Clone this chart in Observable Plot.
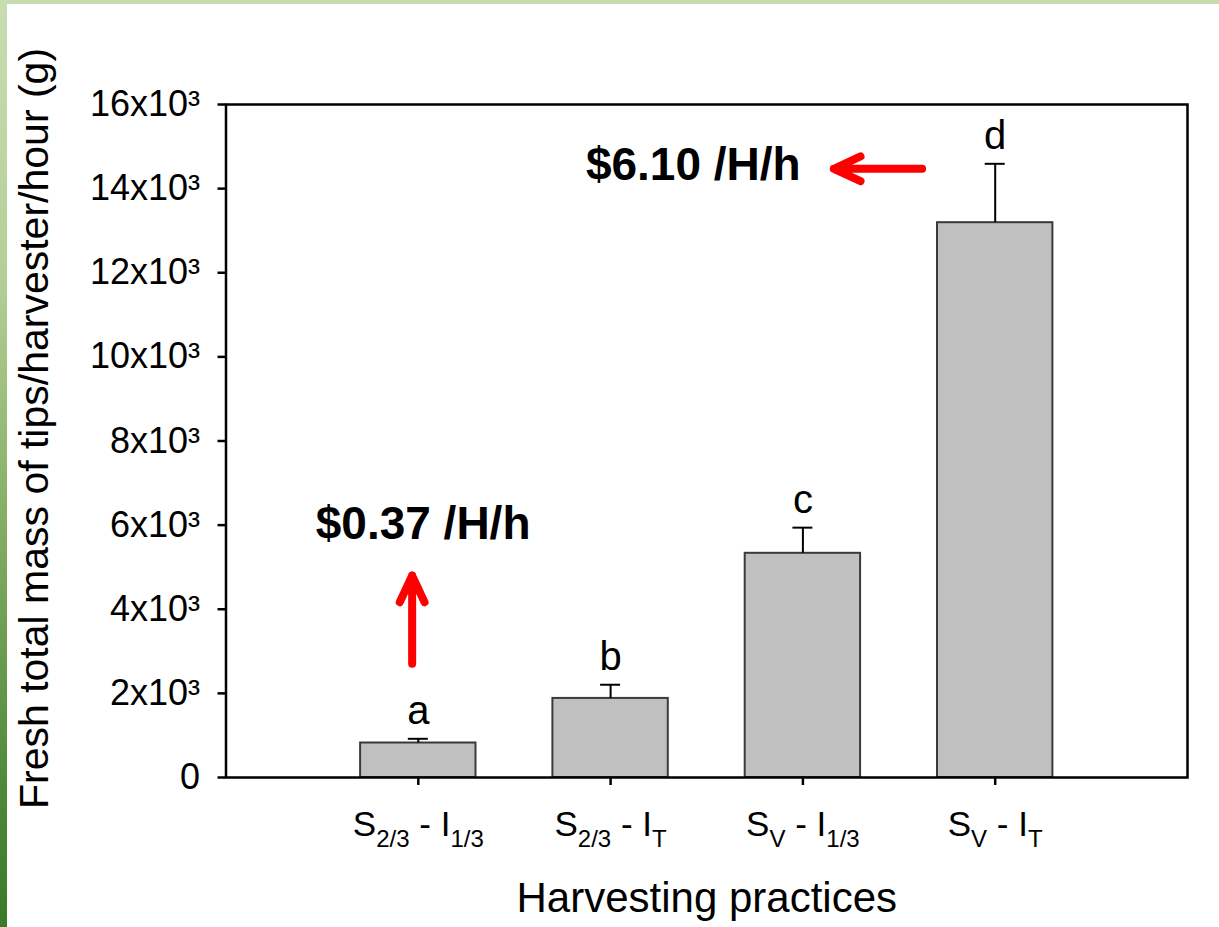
<!DOCTYPE html>
<html>
<head>
<meta charset="utf-8">
<script src="https://cdn.jsdelivr.net/npm/d3@7"></script>
<script src="https://cdn.jsdelivr.net/npm/@observablehq/plot@0.6"></script>
<style>
  html, body { margin: 0; padding: 0; background: #fff; overflow: hidden; }
  #wrap { position: relative; width: 1219px; height: 927px; }
  #topbar { position: absolute; left: 0; top: 0; width: 1219px; height: 4px; background: #c8dcb0; }
  #leftbar { position: absolute; left: 0; top: 0; width: 7px; height: 927px;
    background: linear-gradient(to bottom, #c8ddb2 0%, #b3cf96 30%, #7ea95d 60%, #4d8a37 85%, #3a7a28 100%); }
  svg text, svg tspan { white-space: pre; }
</style>
</head>
<body>
<div id="wrap"><div id="chart"></div><div id="topbar"></div><div id="leftbar"></div></div>
<script>
// ---- data ----
const categories = ["S2/3 - I1/3", "S2/3 - IT", "SV - I1/3", "SV - IT"];
const tickMainA = ["S", "S", "S", "S"];
const tickSubA  = ["2/3", "2/3", "V", "V"];
const tickMainB = [" - I", " - I", " - I", " - I"];
const tickSubB  = ["1/3", "T", "1/3", "T"];
const values = [820, 1880, 5330, 13190];
const errors = [100, 325, 610, 1400];
const letters = ["a", "b", "c", "d"];
const yTicks = [0, 2000, 4000, 6000, 8000, 10000, 12000, 14000, 16000];
const yTickLabels = ["0", "2x10³", "4x10³", "6x10³", "8x10³", "10x10³", "12x10³", "14x10³", "16x10³"];
const yTitle = "Fresh total mass of tips/harvester/hour (g)";
const xTitle = "Harvesting practices";
// annotations (data coordinates)
const annText = ["$0.37 /H/h", "$6.10 /H/h"];
const annX = [1.025, 2.43];
const annY = [6018, 14548];
const arrowX1 = [0.968, 3.62];
const arrowY1 = [2705, 14472];
const arrowX2 = [0.968, 3.161];
const arrowY2 = [4800, 14472];

const rows = categories.map((c, i) => ({cat: c, pos: i + 1, value: values[i], err: errors[i], letter: letters[i]}));
const anns = annText.map((t, i) => ({t, x: annX[i], y: annY[i]}));
const arrows = arrowX1.map((x, i) => ({x1: x, y1: arrowY1[i], x2: arrowX2[i], y2: arrowY2[i]}));

const font = "'Liberation Sans', Arial, Helvetica, sans-serif";

const chart = Plot.plot({
  width: 1219,
  height: 927,
  marginLeft: 225.5,
  marginRight: 32,
  marginTop: 104,
  marginBottom: 150,
  style: {fontFamily: font, background: "transparent"},
  x: {domain: [0, 5], axis: null},
  y: {domain: [0, 16000], axis: null},
  marks: [
    Plot.rect(rows, {x1: d => d.pos - 0.3, x2: d => d.pos + 0.3, y1: 0, y2: "value", fill: "#c0c0c0", stroke: "#3a3a3a", strokeWidth: 2}),
    Plot.ruleX(rows, {x: "pos", y1: "value", y2: d => d.value + d.err, stroke: "black", strokeWidth: 2}),
    Plot.ruleY(rows, {y: d => d.value + d.err, x1: d => d.pos - 0.052, x2: d => d.pos + 0.052, stroke: "black", strokeWidth: 2}),
    Plot.text(rows, {x: "pos", y: d => d.value + d.err, text: "letter", lineAnchor: "bottom", dy: -15, fontSize: 40, fill: "black"}),
    Plot.frame({stroke: "black", strokeWidth: 2.5}),
    Plot.axisY({ticks: yTicks, tickFormat: d => yTickLabels[yTicks.indexOf(d)], tickSize: 8, tickPadding: 18, fontSize: 36, strokeWidth: 2.5, label: null, fill: "black"}),
    Plot.axisX({ticks: [1, 2, 3, 4], tickFormat: d => categories[d - 1], tickSize: 8, tickPadding: 26, fontSize: 35, strokeWidth: 2.5, label: null, fill: "black"}),
    Plot.text([yTitle], {text: d => d, frameAnchor: "left", textAnchor: "middle", lineAnchor: "middle", rotate: -90, dx: -191, dy: -12.5, fontSize: 41, fill: "black"}),
    Plot.text([xTitle], {text: d => d, frameAnchor: "bottom", textAnchor: "middle", lineAnchor: "middle", dy: 121, fontSize: 42, fill: "black"}),
    Plot.arrow(arrows, {x1: "x1", y1: "y1", x2: "x2", y2: "y2", stroke: "#ff0000", strokeWidth: 8, headAngle: 50, headLength: 6.6, strokeLinecap: "round", strokeLinejoin: "round"}),
    Plot.text(anns, {x: "x", y: "y", text: "t", fontSize: 46, fontWeight: "bold", fill: "black"})
  ]
});

document.getElementById("chart").appendChild(chart);

// rich x tick labels with subscripts
d3.select(chart).selectAll('g[aria-label="x-axis tick label"] text').each(function() {
  const txt = d3.select(this);
  const i = categories.indexOf(this.textContent);
  if (i < 0) return;
  txt.text(null);
  txt.append("tspan").text(tickMainA[i]);
  txt.append("tspan").attr("font-size", 24).attr("dy", 11).text(tickSubA[i]);
  txt.append("tspan").attr("font-size", 35).attr("dy", -11).text(tickMainB[i]);
  txt.append("tspan").attr("font-size", 24).attr("dy", 11).text(tickSubB[i]);
});
</script>
</body>
</html>
